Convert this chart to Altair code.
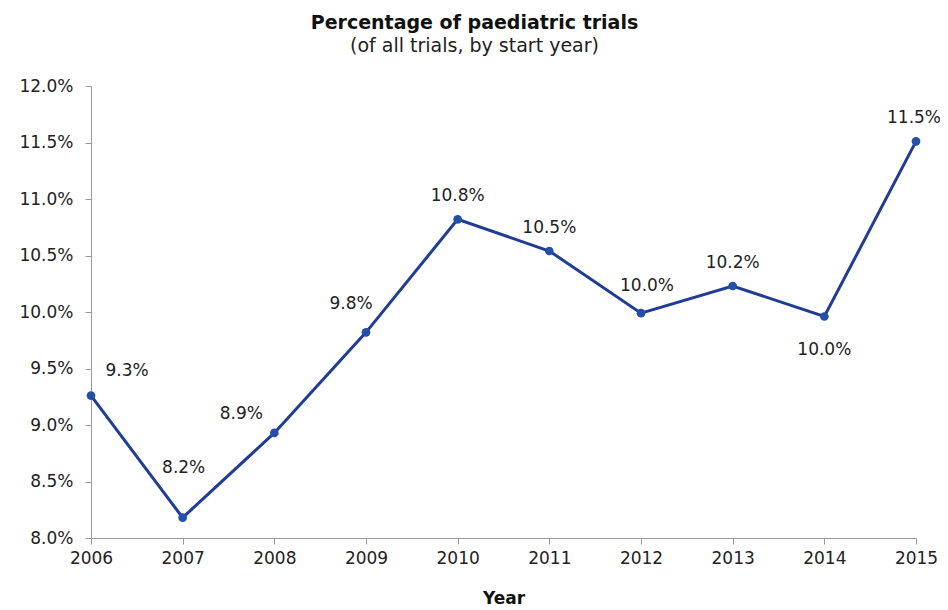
import altair as alt
import pandas as pd

years = [2006, 2007, 2008, 2009, 2010, 2011, 2012, 2013, 2014, 2015]
pct = [9.26, 8.18, 8.93, 9.82, 10.82, 10.54, 9.99, 10.23, 9.96, 11.51]
labels = ["9.3%", "8.2%", "8.9%", "9.8%", "10.8%", "10.5%", "10.0%", "10.2%", "10.0%", "11.5%"]
y_ticks = [8.0, 8.5, 9.0, 9.5, 10.0, 10.5, 11.0, 11.5, 12.0]

df = pd.DataFrame({"year": years, "pct": pct, "label": labels})

FONT = "DejaVu Sans"
LINE = "#1f3c96"
POINT = "#2450aa"

x = alt.X("year:Q",
          scale=alt.Scale(domain=[2006, 2015], nice=False, zero=False),
          axis=alt.Axis(values=years, format="d", title="Year", grid=False,
                        labelFont=FONT, labelFontSize=17, labelColor="#222",
                        labelFlush=False, labelPadding=6, tickSize=6,
                        tickColor="#999", domainColor="#999",
                        titleFont=FONT, titleFontSize=17, titleFontWeight="bold",
                        titleColor="#111", titlePadding=24))
y = alt.Y("pct:Q",
          scale=alt.Scale(domain=[8, 12], nice=False, zero=False),
          axis=alt.Axis(values=y_ticks, labelExpr="format(datum.value, '.1f') + '%'",
                        title=None, grid=False, labelFont=FONT, labelFontSize=17,
                        labelColor="#222", labelPadding=12, tickSize=6,
                        tickColor="#999", domainColor="#999"))

base = alt.Chart(df)
line = base.mark_line(color=LINE, strokeWidth=3).encode(x=x, y=y)
points = base.mark_circle(color=POINT, size=75, opacity=1).encode(x=x, y=y)


def text_layer(sel, dx, dy):
    return base.transform_filter(
        alt.FieldOneOfPredicate(field="year", oneOf=sel)
    ).mark_text(font=FONT, fontSize=17, color="#222", dx=dx, dy=dy).encode(
        x=x, y=y, text="label:N")


texts = [
    text_layer([2010, 2011, 2013], 0, -23),
    text_layer([2015], -2, -23),
    text_layer([2012], 6, -27),
    text_layer([2009], -15, -28),
    text_layer([2006], 36, -25),
    text_layer([2007], 1, -50),
    text_layer([2008], -33, -19),
    text_layer([2014], 0, 33),
]

chart = alt.layer(line, points, *texts).properties(
    width=825, height=452,
    title=alt.TitleParams(
        text="Percentage of paediatric trials",
        subtitle="(of all trials, by start year)",
        font=FONT, fontSize=19, fontWeight="bold", color="#111",
        subtitleFont=FONT, subtitleFontSize=19, subtitleColor="#222",
        anchor="middle", offset=21, dx=-29, subtitlePadding=4),
    autosize=alt.AutoSizeParams(type="none"),
    padding={"left": 83, "top": 78, "right": 24, "bottom": 72},
).configure(background="white").configure_view(stroke=None, strokeWidth=0)

chart.save("out.html", embed_options={"renderer": "svg", "actions": False})
